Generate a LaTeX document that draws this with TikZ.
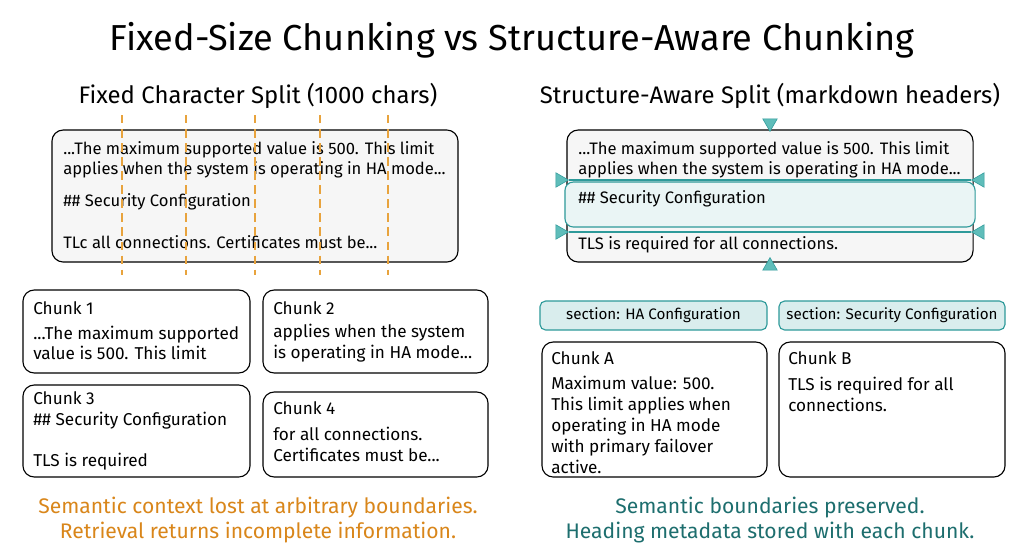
\documentclass[tikz,border=0pt]{standalone}
\usepackage{fontspec}
\setmainfont{Fira Sans}
\usepackage{tikz}
\usetikzlibrary{shapes.geometric, positioning}
\definecolor{cutorange}{HTML}{E8A33D}
\definecolor{noteorange}{HTML}{D9861A}
\definecolor{bordteal}{HTML}{2E9A9A}
\definecolor{markteal}{HTML}{5FBDBA}
\definecolor{noteteal}{HTML}{1D6E6E}
\tikzstyle{source} = [rectangle, rounded corners=8pt, draw=black, thick, fill=gray!7, inner sep=0pt]
\tikzstyle{chunk} = [rectangle, rounded corners=8pt, draw=black, thick, fill=white, inner sep=0pt]
\tikzstyle{tag} = [rectangle, rounded corners=4pt, draw=bordteal, thick, fill=bordteal!18, inner sep=0pt, minimum height=0.725cm, font=\fontsize{10.8}{12}\selectfont]
\tikzstyle{section} = [rectangle, rounded corners=6pt, draw=bordteal, thick, fill=bordteal!10, inner sep=0pt]
\tikzstyle{cut} = [draw=cutorange, thick, dash pattern=on 6pt off 4pt]
\tikzstyle{boundary} = [draw=bordteal, thick]
\tikzstyle{marker} = [regular polygon, regular polygon sides=3, draw=bordteal, fill=markteal, inner sep=0pt, minimum size=0.42cm]
\tikzstyle{txt} = [anchor=west, align=left, inner sep=0pt, font=\fontsize{11.8}{14.2}\selectfont]
\tikzstyle{ctxt} = [anchor=west, align=left, inner sep=0pt, font=\fontsize{12.2}{14.8}\selectfont]
\tikzstyle{heading} = [font=\fontsize{17}{20}\selectfont]
\tikzstyle{note} = [align=center, font=\fontsize{15}{17.2}\selectfont]
\begin{document}
\begin{tikzpicture}[x=0.025cm, y=-0.025cm]
        \useasboundingbox[fill=white] (0,0) rectangle (1024,559);
        % Titles
        \node (title) [font=\fontsize{25.7}{30}\selectfont] at (512,40) {Fixed-Size Chunking vs Structure-Aware Chunking};
        \node (lhead) [heading] at (258,96) {Fixed Character Split (1000 chars)};
        \node (rhead) [heading] at (770,96) {Structure-Aware Split (markdown headers)};

        % Left: fixed split
        \node (lsrc) [source, minimum width=10.15cm, minimum height=3.3cm] at (255,196) {};
        \node (lsrc1) [txt] at (63,160) {...The maximum supported value is 500. This limit\\applies when the system is operating in HA mode...};
        \node (lsrc2) [txt] at (63,202) {\#\# Security Configuration};
        \node (lsrc3) [txt] at (63,242) {TLc all connections. Certificates must be...};
        \foreach \x in {122,186,255,320,388}
            \draw [cut] (\x,115) -- (\x,275);

        \node (c1) [chunk, minimum width=5.675cm, minimum height=2.075cm] at (136.5,331.5) {};
        \node (c2) [chunk, minimum width=5.625cm, minimum height=2.075cm] at (375.5,331.5) {};
        \node (c3) [chunk, minimum width=5.675cm, minimum height=2.3cm] at (136.5,431) {};
        \node (c4) [chunk, minimum width=5.625cm, minimum height=2.125cm] at (375.5,434.5) {};
        \node [ctxt] at (33,308) {Chunk 1};
        \node [ctxt] at (33,343) {...The maximum supported\\value is 500. This limit};
        \node [ctxt] at (273,308) {Chunk 2};
        \node [ctxt] at (273,343) {applies when the system\\is operating in HA mode...};
        \node [ctxt] at (33,410) {Chunk 3\\\#\# Security Configuration};
        \node [ctxt] at (33,462) {TLS is required};
        \node [ctxt] at (273,408) {Chunk 4};
        \node [ctxt] at (273,444) {for all connections.\\Certificates must be...};

        % Right: structure-aware split
        \node (rsrc) [source, minimum width=10.15cm, minimum height=3.3cm] at (770,196) {};
        \node (rsec) [section, minimum width=10.25cm, minimum height=1.125cm] at (770,204.5) {};
        \node (rsrc1) [txt] at (578,160) {...The maximum supported value is 500. This limit\\applies when the system is operating in HA mode...};
        \node (rsrc2) [txt] at (578,199) {\#\# Security Configuration};
        \node (rsrc3) [txt] at (578,245) {TLS is required for all connections.};

        \node (mtop) [marker, shape border rotate=180] at (770,123) {};
        \node (mbot) [marker] at (770,266) {};
        \node (ml1) [marker, shape border rotate=270] at (560,180) {};
        \node (mr1) [marker, shape border rotate=90] at (980,180) {};
        \node (ml2) [marker, shape border rotate=270] at (560,232) {};
        \node (mr2) [marker, shape border rotate=90] at (980,232) {};
        \draw [boundary] (ml1) -- (mr1);
        \draw [boundary] (ml2) -- (mr2);

        \node (tagA) [tag, minimum width=5.675cm] at (653.5,315.5) {section: HA Configuration};
        \node (tagB) [tag, minimum width=5.65cm] at (892,315.5) {section: Security Configuration};
        \node (cA) [chunk, minimum width=5.625cm, minimum height=3.375cm] at (654.5,409.5) {};
        \node (cB) [chunk, minimum width=5.65cm, minimum height=3.375cm] at (892,409.5) {};
        \node [ctxt] at (551,358) {Chunk A};
        \node [ctxt, font=\fontsize{12.2}{15}\selectfont] at (551,425) {Maximum value: 500.\\This limit applies when\\operating in HA mode\\with primary failover\\active.};
        \node [ctxt] at (788,358) {Chunk B};
        \node [ctxt, font=\fontsize{12.2}{15}\selectfont] at (788,394) {TLS is required for all\\connections.};

        % Notes
        \node (lnote) [note, text=noteorange] at (258,520) {Semantic context lost at arbitrary boundaries.\\Retrieval returns incomplete information.};
        \node (rnote) [note, text=noteteal] at (770,520) {Semantic boundaries preserved.\\Heading metadata stored with each chunk.};
    \end{tikzpicture}
\end{document}
